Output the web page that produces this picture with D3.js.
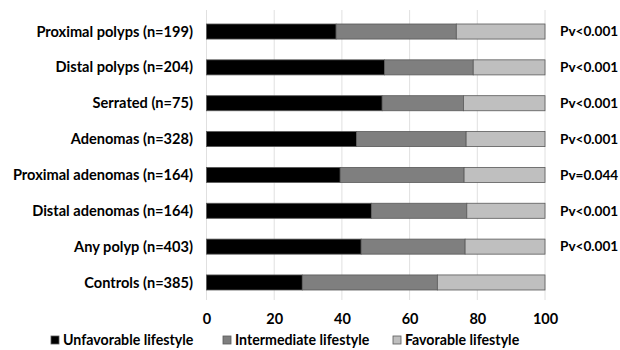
<!DOCTYPE html>
<html>
<head>
<meta charset="utf-8">
<script src="https://cdn.jsdelivr.net/npm/d3@7"></script>
<style>
  body { margin: 0; background: #fff; }
  text { font-family: Lato, "Open Sans", sans-serif; font-weight: bold; fill: #000; }
</style>
</head>
<body>
<svg id="chart" width="620" height="350"></svg>
<script>
let categories = [
  "Proximal polyps (n=199)",
  "Distal polyps (n=204)",
  "Serrated (n=75)",
  "Adenomas (n=328)",
  "Proximal adenomas (n=164)",
  "Distal adenomas (n=164)",
  "Any polyp (n=403)",
  "Controls (n=385)",
];
let unfavorable = [38.3, 52.6, 51.9, 44.3, 39.5, 48.7, 45.7, 28.3];
let intermediate = [35.5, 26.2, 24.0, 32.4, 36.6, 28.2, 30.7, 39.9];
let favorable = [26.2, 21.2, 24.1, 23.3, 23.9, 23.1, 23.6, 31.8];
let pvalues = ["Pv<0.001", "Pv<0.001", "Pv<0.001", "Pv<0.001", "Pv=0.044", "Pv<0.001", "Pv<0.001", ""];
let keys = ["Unfavorable lifestyle", "Intermediate lifestyle", "Favorable lifestyle"];
let ticks = [0, 20, 40, 60, 80, 100];

let svg = d3.select("#chart");

let x = d3.scaleLinear().domain([0, 100]).range([206.5, 545]);
let y = d3.scaleBand().domain(categories).range([13.6, 300.4]).paddingInner(0.58).paddingOuter(0.29);
let z = d3.scaleOrdinal().domain(keys).range(["#000000", "#7f7f7f", "#bfbfbf"]);

let rows = categories.map((c, i) => ({
  cat: c,
  "Unfavorable lifestyle": unfavorable[i],
  "Intermediate lifestyle": intermediate[i],
  "Favorable lifestyle": favorable[i],
}));
let stacked = d3.stack().keys(keys)(rows);

// gridlines
svg.append("g")
  .selectAll("line")
  .data(ticks)
  .enter()
  .append("line")
  .attr("x1", (d) => x(d))
  .attr("x2", (d) => x(d))
  .attr("y1", 10)
  .attr("y2", 300)
  .attr("stroke", "#e0e0e0")
  .attr("stroke-width", 1);

// bars
svg.append("g")
  .selectAll("g")
  .data(stacked)
  .enter()
  .append("g")
  .attr("fill", (d) => z(d.key))
  .selectAll("rect")
  .data((d) => d)
  .enter()
  .append("rect")
  .attr("x", (d) => x(d[0]))
  .attr("y", (d) => y(d.data.cat))
  .attr("width", (d) => x(d[1]) - x(d[0]))
  .attr("height", y.bandwidth())
  .attr("stroke", "#595959")
  .attr("stroke-width", 0.8);

// category labels
svg.append("g")
  .selectAll("text")
  .data(categories)
  .enter()
  .append("text")
  .attr("x", 193)
  .attr("y", (d) => y(d) + y.bandwidth() / 2)
  .attr("dy", "0.35em")
  .attr("text-anchor", "end")
  .style("font-size", "14.6px")
  .text((d) => d);

// p-values
svg.append("g")
  .selectAll("text")
  .data(pvalues)
  .enter()
  .append("text")
  .attr("x", 560)
  .attr("y", (d, i) => y(categories[i]) + y.bandwidth() / 2)
  .attr("dy", "0.35em")
  .style("font-size", "13.6px")
  .text((d) => d);

// x axis
let xAxis = svg.append("g")
  .attr("transform", "translate(0,309)")
  .call(d3.axisBottom(x).tickValues(ticks).tickSize(0).tickPadding(5));
xAxis.select(".domain").remove();
xAxis.selectAll("text")
  .style("font-family", "Lato, 'Open Sans', sans-serif")
  .style("font-weight", "bold")
  .style("font-size", "14.5px")
  .attr("fill", "#000");

// legend
let legendX = [51, 223, 393];
let legend = svg.append("g")
  .selectAll("g")
  .data(keys)
  .enter()
  .append("g")
  .attr("transform", (d, i) => "translate(" + legendX[i] + ",336)");

legend.append("rect")
  .attr("width", 8)
  .attr("height", 8)
  .attr("fill", (d) => z(d))
  .attr("stroke", "#595959")
  .attr("stroke-width", 0.8);

legend.append("text")
  .attr("x", 12)
  .attr("y", 4)
  .attr("dy", "0.35em")
  .style("font-size", "14.2px")
  .text((d) => d);
</script>
</body>
</html>
